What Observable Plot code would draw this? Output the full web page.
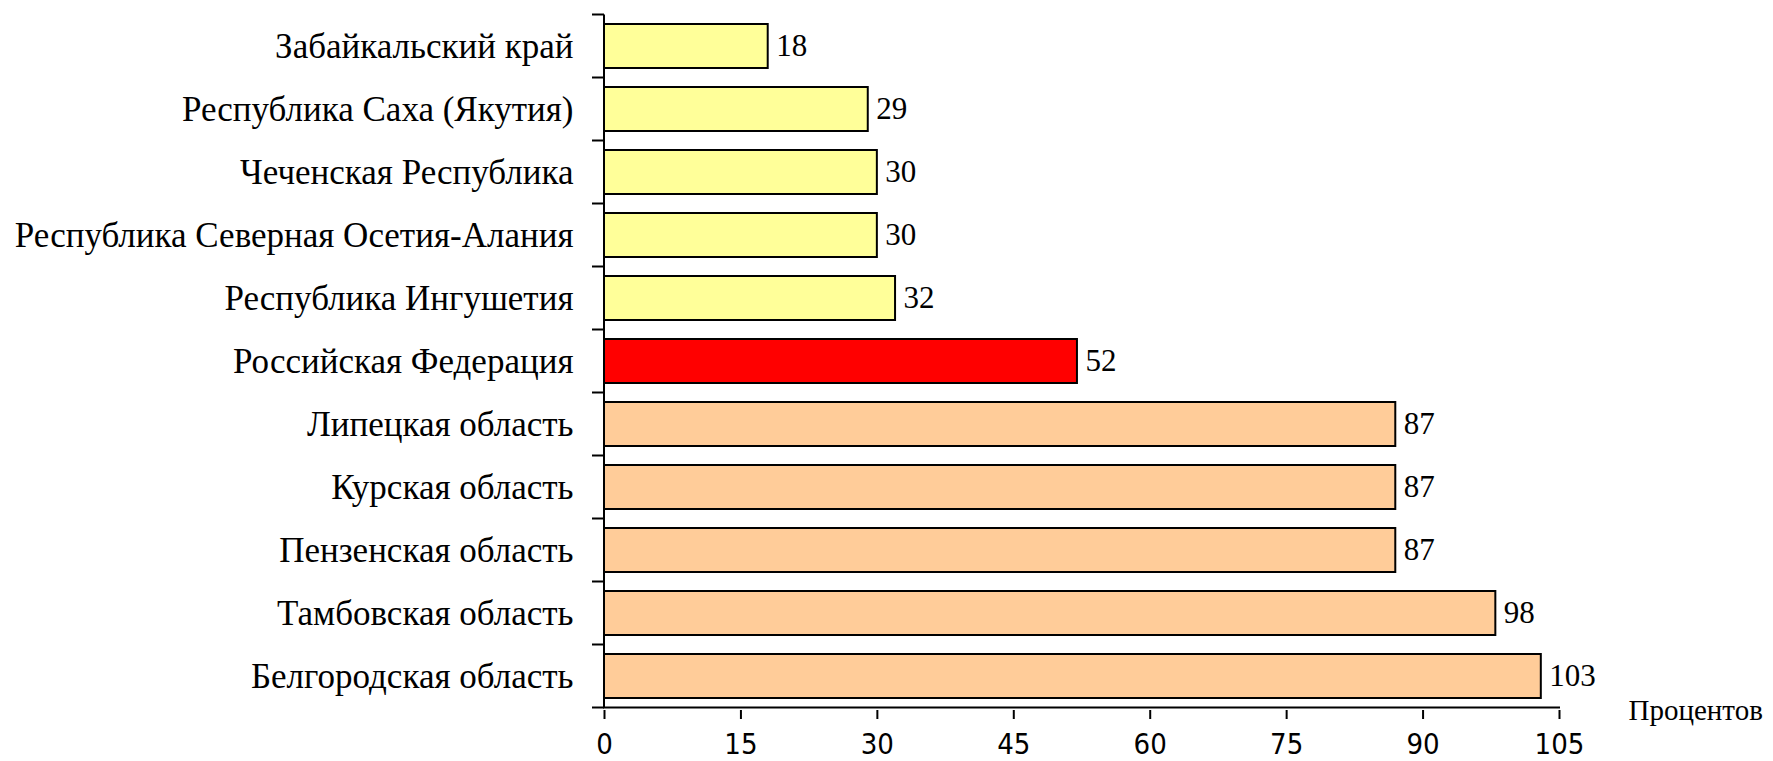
<!DOCTYPE html>
<html>
<head>
<meta charset="utf-8">
<script src="https://cdn.jsdelivr.net/npm/d3@7"></script>
<script src="https://cdn.jsdelivr.net/npm/@observablehq/plot@0.6"></script>
<style>
  html, body { margin: 0; padding: 0; background: #fff; }
  #chart svg { display: block; }
</style>
</head>
<body>
<div id="chart"></div>
<script>
const categories = [
  "Забайкальский край",
  "Республика Саха (Якутия)",
  "Чеченская Республика",
  "Республика Северная Осетия-Алания",
  "Республика Ингушетия",
  "Российская Федерация",
  "Липецкая область",
  "Курская область",
  "Пензенская область",
  "Тамбовская область",
  "Белгородская область"
];
const values = [18, 29, 30, 30, 32, 52, 87, 87, 87, 98, 103];
const groups = ["low", "low", "low", "low", "low", "federation", "high", "high", "high", "high", "high"];
const xTicks = [0, 15, 30, 45, 60, 75, 90, 105];
const unitLabel = "Процентов";

const data = categories.map((c, i) => ({category: c, value: values[i], group: groups[i]}));

const serif = "Liberation Serif";
const sans = "DejaVu Sans Condensed";

function axisLines() {
  return function (index, scales, vals, dimensions) {
    const {x, y} = scales;
    const n = categories.length;
    const step = y.step ? y.step() : (dimensions.height - dimensions.marginTop - dimensions.marginBottom) / n;
    const bw = y.bandwidth ? y.bandwidth() : step * 0.7;
    const half = (step - bw) / 2;
    const x0 = x(xTicks[0]);
    const top = y(categories[0]) - half;
    const bottom = y(categories[n - 1]) + bw + half;
    const g = d3.create("svg:g").attr("stroke", "black").attr("stroke-width", 2).attr("fill", "none");
    g.append("line").attr("x1", x0).attr("x2", x0).attr("y1", top).attr("y2", bottom);
    const bounds = categories.map(c => y(c) - half).concat([bottom]);
    for (const b of bounds) {
      g.append("line").attr("x1", x0 - 12).attr("x2", x0).attr("y1", b).attr("y2", b);
    }
    g.append("line").attr("x1", x0 - 1).attr("x2", x(xTicks[xTicks.length - 1]) + 1).attr("y1", bottom).attr("y2", bottom);
    return g.node();
  };
}

const chart = Plot.plot({
  width: 1773,
  height: 761,
  marginLeft: 604,
  marginRight: 214,
  marginTop: 12,
  marginBottom: 51,
  style: {fontFamily: serif, fontSize: "31px", background: "#fff", color: "black", overflow: "visible"},
  x: {domain: [0, 105], ticks: xTicks},
  y: {domain: categories, paddingInner: 0.3, paddingOuter: 0.15},
  color: {domain: ["low", "federation", "high"], range: ["#FFFF99", "#FF0000", "#FFCC99"]},
  marks: [
    Plot.barX(data, {x: "value", y: "category", fill: "group", stroke: "black", strokeWidth: 2}),
    Plot.text(data, {x: "value", y: "category", text: d => String(d.value), dx: 8, textAnchor: "start", fontFamily: serif, fontSize: 31, fill: "black"}),
    Plot.axisY({tickSize: 0, tickPadding: 31, fontFamily: serif, fontSize: 35, label: null, fill: "black"}),
    Plot.axisX({ticks: xTicks, tickSize: 9, tickPadding: 14, strokeWidth: 2, fontFamily: sans, fontSize: 29, label: null, fill: "black", tickFormat: d => String(d)}),
    Plot.text([unitLabel], {text: d => d, frameAnchor: "bottom-right", dx: 69, dy: 0, textAnchor: "start", lineAnchor: "middle", fontFamily: serif, fontSize: 29, fill: "black"}),
    axisLines()
  ]
});
document.getElementById("chart").appendChild(chart);
</script>
</body>
</html>
